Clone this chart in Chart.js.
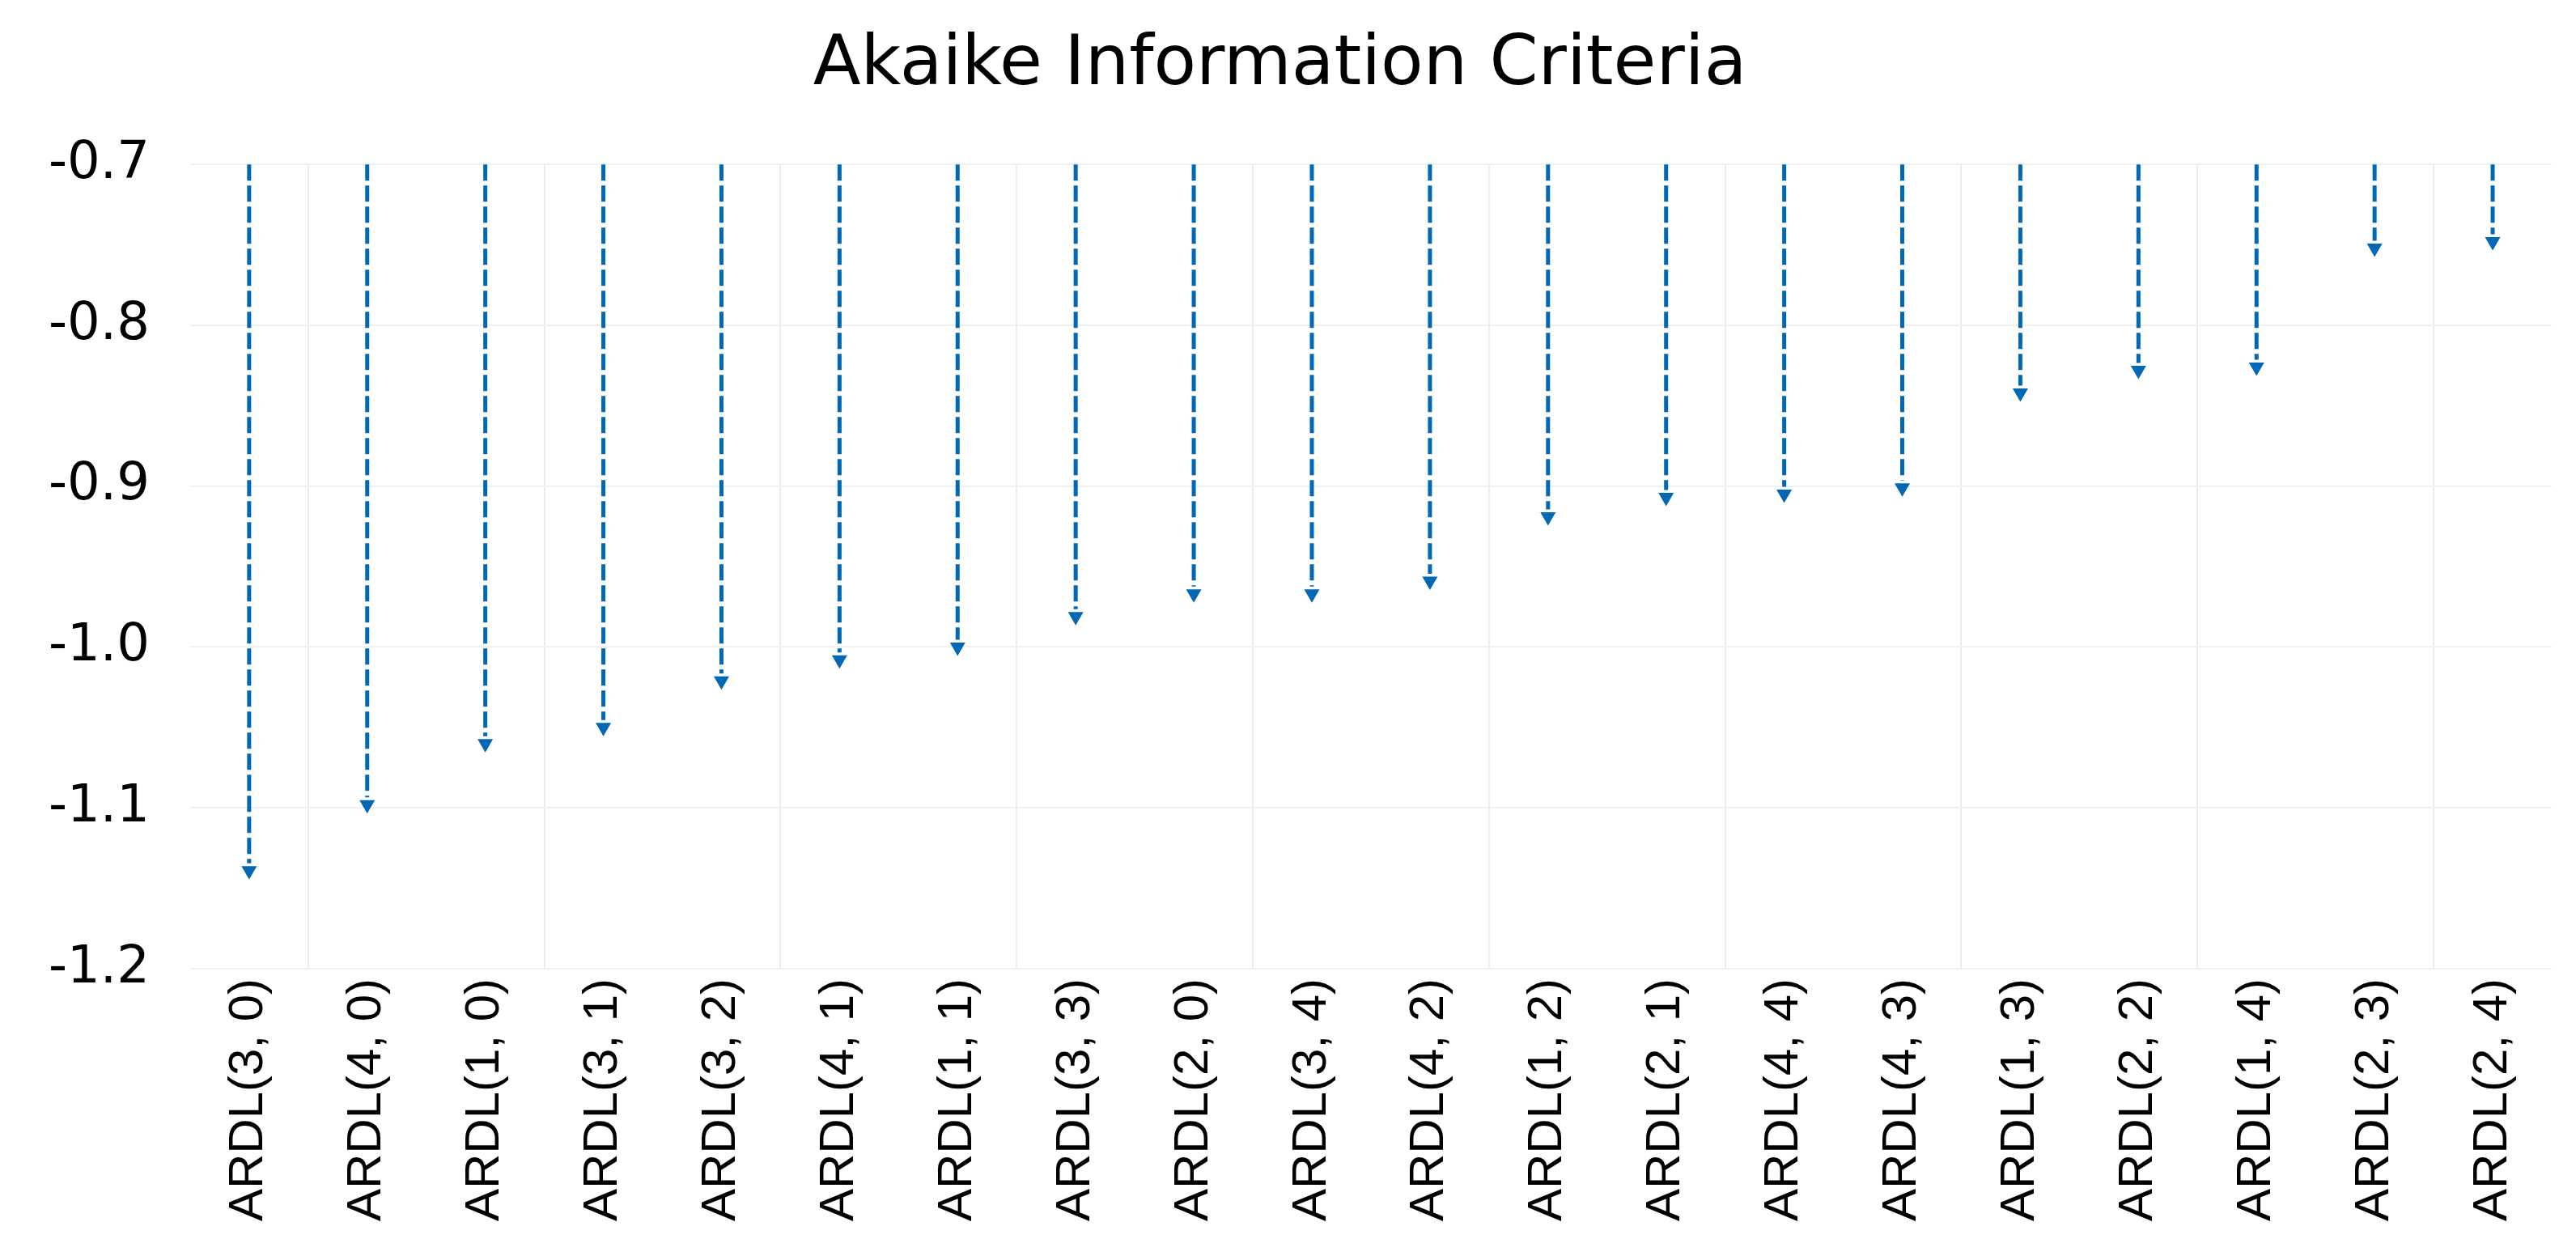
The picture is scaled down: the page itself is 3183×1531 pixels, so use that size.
<!DOCTYPE html>
<html>
<head>
<meta charset="utf-8">
<script src="https://cdn.jsdelivr.net/npm/chart.js@4"></script>
<style>
  html, body { margin: 0; padding: 0; background: #fff; }
  #wrap { width: 3183px; height: 1531px; }
</style>
</head>
<body>
<div id="wrap"><canvas id="aic-chart"></canvas></div>
<script>
const models = ['ARDL(3, 0)', 'ARDL(4, 0)', 'ARDL(1, 0)', 'ARDL(3, 1)', 'ARDL(3, 2)', 'ARDL(4, 1)', 'ARDL(1, 1)',
  'ARDL(3, 3)', 'ARDL(2, 0)', 'ARDL(3, 4)', 'ARDL(4, 2)', 'ARDL(1, 2)', 'ARDL(2, 1)', 'ARDL(4, 4)', 'ARDL(4, 3)',
  'ARDL(1, 3)', 'ARDL(2, 2)', 'ARDL(1, 4)', 'ARDL(2, 3)', 'ARDL(2, 4)'];
const aicValues = [-1.139, -1.098, -1.060, -1.050, -1.021, -1.008, -1.000, -0.981, -0.967, -0.967,
  -0.959, -0.919, -0.907, -0.905, -0.901, -0.842, -0.828, -0.826, -0.752, -0.748];
const yTicks = [-0.7, -0.8, -0.9, -1.0, -1.1, -1.2];

const blue = '#0068b4';

// dashed stems from the top of the axis down to each value
const stems = {
  id: 'stems',
  beforeDatasetsDraw(chart) {
    const ctx = chart.ctx;
    const x = chart.scales.x, y = chart.scales.y;
    const top = y.getPixelForValue(-0.7);
    ctx.save();
    ctx.strokeStyle = blue;
    ctx.lineWidth = 5;
    ctx.setLineDash([20, 6]);
    aicValues.forEach((v, i) => {
      const px = x.getPixelForValue(i);
      ctx.beginPath();
      ctx.moveTo(px, top);
      ctx.lineTo(px, y.getPixelForValue(v) - 9);
      ctx.stroke();
    });
    ctx.restore();
  }
};

new Chart(document.getElementById('aic-chart'), {
  type: 'line',
  data: {
    labels: models,
    datasets: [{
      data: aicValues,
      showLine: false,
      pointStyle: 'triangle',
      rotation: 180,
      pointRadius: 11,
      pointBackgroundColor: blue,
      pointBorderWidth: 0
    }]
  },
  options: {
    responsive: true,
    maintainAspectRatio: false,
    animation: false,
    devicePixelRatio: 1,
    layout: { padding: { left: 10, right: 30, top: 10, bottom: 10 } },
    plugins: {
      legend: { display: false },
      tooltip: { enabled: false },
      title: {
        display: true,
        text: 'Akaike Information Criteria',
        color: '#000',
        font: { family: 'DejaVu Sans', size: 86, weight: 'normal' },
        padding: { top: 20, bottom: 70 }
      }
    },
    scales: {
      x: {
        offset: true,
        grid: {
          offset: true,
          color: ctx => (ctx.index % 2 === 1 ? '#ececec' : 'rgba(0,0,0,0)'),
          lineWidth: 2,
          drawTicks: false
        },
        border: { display: false },
        ticks: {
          color: '#000',
          minRotation: 90,
          maxRotation: 90,
          padding: 12,
          font: { family: "'Liberation Sans Narrow', 'Liberation Sans'", size: 60 }
        }
      },
      y: {
        min: -1.2,
        max: -0.7,
        afterBuildTicks: axis => { axis.ticks = yTicks.map(v => ({ value: v })); },
        grid: { color: '#f0f0f0', lineWidth: 2, drawTicks: false },
        border: { display: false },
        ticks: {
          color: '#000',
          padding: 50,
          callback: v => v.toFixed(1),
          font: { family: 'DejaVu Sans', size: 64 }
        }
      }
    }
  },
  plugins: [stems]
});
</script>
</body>
</html>
